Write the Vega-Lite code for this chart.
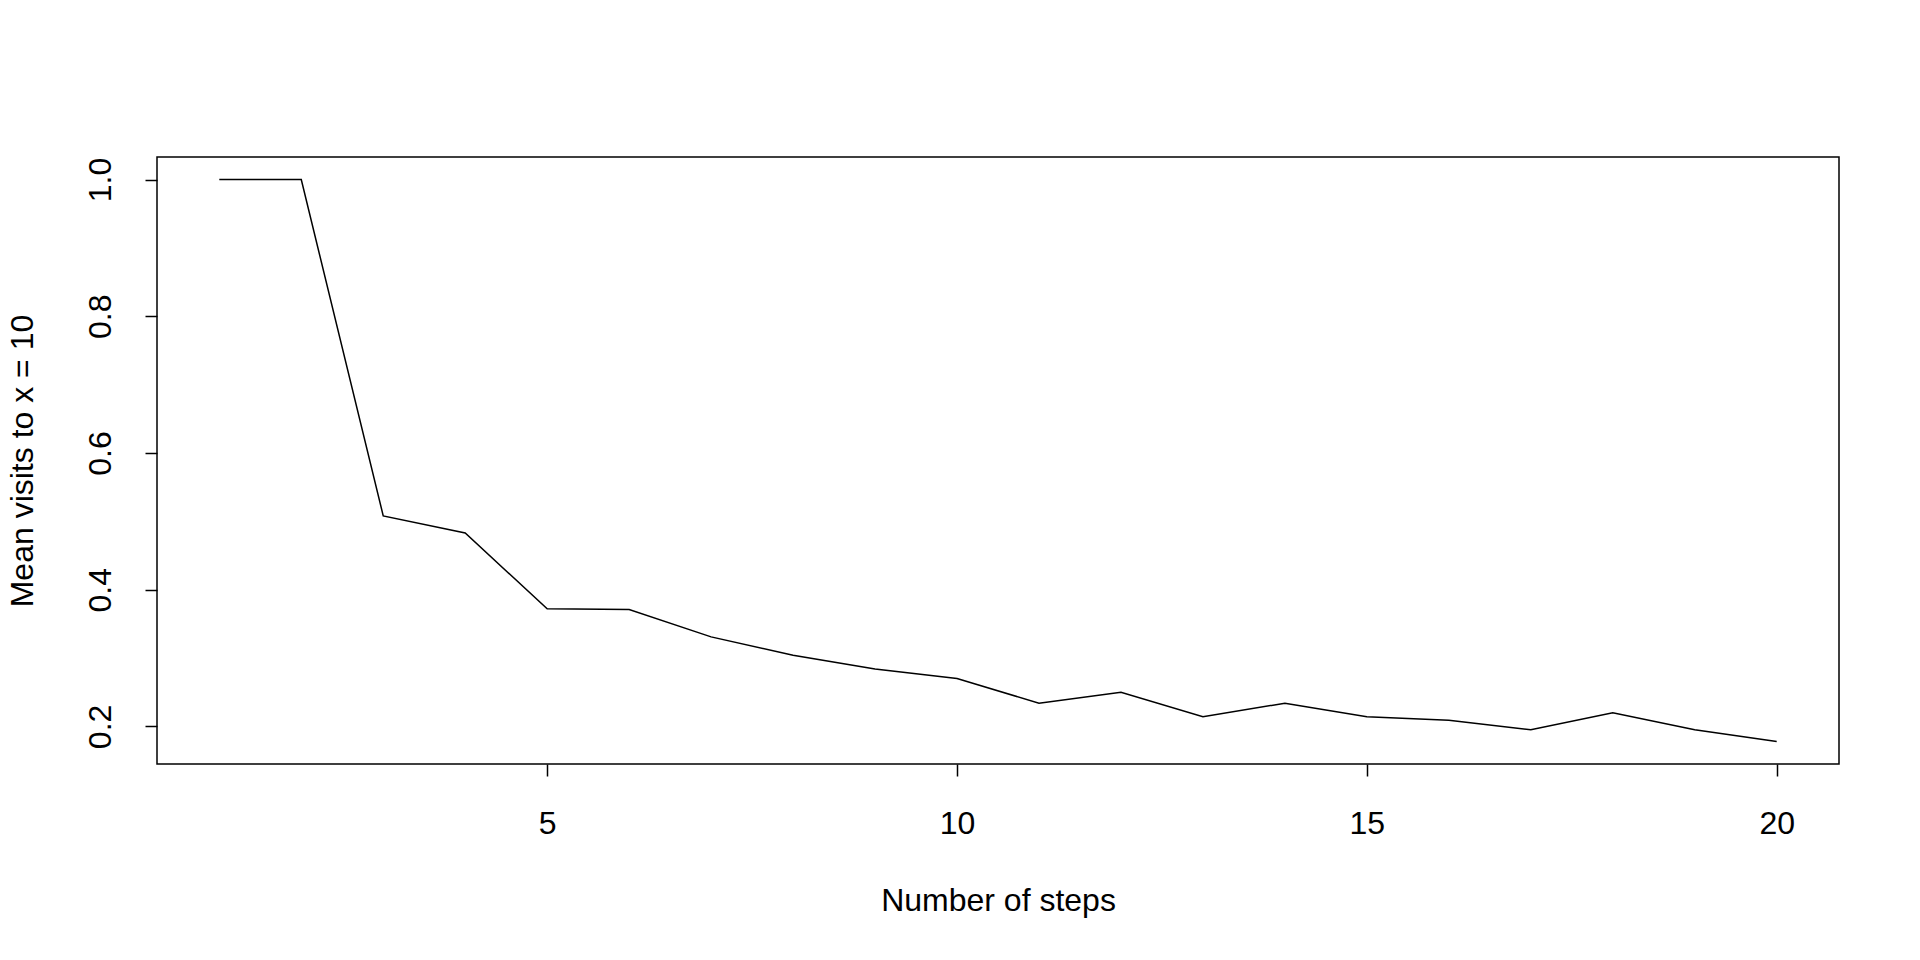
{
  "$schema": "https://vega.github.io/schema/vega-lite/v6.json",
  "width": 1682,
  "height": 607,
  "autosize": "none",
  "padding": {"left": 157, "top": 157, "right": 81, "bottom": 196},
  "background": "white",
  "data": {"values": [
    {"step": 1, "visits": 1.0},
    {"step": 2, "visits": 1.0},
    {"step": 3, "visits": 0.508},
    {"step": 4, "visits": 0.483},
    {"step": 5, "visits": 0.372},
    {"step": 6, "visits": 0.371},
    {"step": 7, "visits": 0.331},
    {"step": 8, "visits": 0.304},
    {"step": 9, "visits": 0.284},
    {"step": 10, "visits": 0.270},
    {"step": 11, "visits": 0.234},
    {"step": 12, "visits": 0.250},
    {"step": 13, "visits": 0.214},
    {"step": 14, "visits": 0.234},
    {"step": 15, "visits": 0.214},
    {"step": 16, "visits": 0.209},
    {"step": 17, "visits": 0.195},
    {"step": 18, "visits": 0.220},
    {"step": 19, "visits": 0.195},
    {"step": 20, "visits": 0.178}
  ]},
  "mark": {"type": "line", "color": "black", "strokeWidth": 1.5, "clip": true},
  "encoding": {
    "x": {
      "field": "step", "type": "quantitative",
      "scale": {"domain": [0.24, 20.76], "nice": false, "zero": false},
      "axis": {
        "title": "Number of steps",
        "values": [5, 10, 15, 20],
        "format": "d",
        "labelPadding": 32,
        "titlePadding": 46
      }
    },
    "y": {
      "field": "visits", "type": "quantitative",
      "scale": {"domain": [0.145, 1.033], "nice": false, "zero": false},
      "axis": {
        "title": "Mean visits to x = 10",
        "values": [0.2, 0.4, 0.6, 0.8, 1.0],
        "format": ".1f",
        "labelAngle": -90,
        "labelAlign": "center",
        "labelBaseline": "alphabetic",
        "labelPadding": 35,
        "titlePadding": 45
      }
    }
  },
  "config": {
    "view": {"stroke": "black", "strokeWidth": 1.5},
    "axis": {
      "domain": false,
      "grid": false,
      "ticks": true,
      "tickColor": "black",
      "tickSize": 12,
      "tickWidth": 1.5,
      "labelFont": "Liberation Sans",
      "labelFontSize": 32,
      "labelColor": "black",
      "labelOverlap": false,
      "titleFont": "Liberation Sans",
      "titleFontSize": 32,
      "titleFontWeight": "normal",
      "titleColor": "black"
    }
  }
}
